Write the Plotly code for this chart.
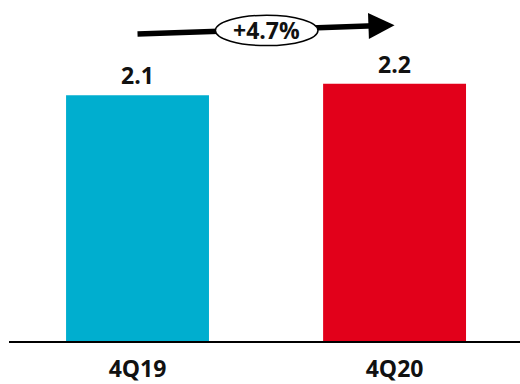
import plotly.graph_objects as go

categories = ["4Q19", "4Q20"]
values = [2.1, 2.2]
value_labels = ["2.1", "2.2"]
colors = ["#00AECF", "#E2001A"]
growth_label = "+4.7%"

FONT = "Open Sans"

fig = go.Figure()
fig.add_trace(go.Bar(
    x=categories, y=values, marker_color=colors, marker_line_width=0,
    width=0.556, hoverinfo="skip",
))

for c, v, t in zip(categories, values, value_labels):
    fig.add_annotation(x=c, y=v, text=f"<b>{t}</b>", showarrow=False,
                       yanchor="middle", yshift=20,
                       font=dict(family=FONT, size=23, color="#111111"))

# growth arrow from first to second category
y_start, y_end = 2.624, 2.70
slope = (y_end - y_start)
fig.add_shape(type="line", xref="x", yref="y", x0=0, y0=y_start,
              x1=0.95, y1=y_start + slope * 0.95,
              line=dict(color="black", width=5.5), layer="above")
fig.add_shape(type="circle", xref="x", yref="y", x0=0.303, x1=0.702,
              y0=2.525, y1=2.785, fillcolor="white",
              line=dict(color="black", width=1.5), layer="above")
fig.add_annotation(x=1, y=y_end, ax=0.9, ay=y_start + slope * 0.9, xref="x", yref="y",
                   axref="x", ayref="y", text="", showarrow=True,
                   arrowhead=2, arrowwidth=5.5, arrowsize=0.95, arrowcolor="black")
fig.add_annotation(x=0.503, y=2.655, text=f"<b>{growth_label}</b>", showarrow=False,
                   font=dict(family=FONT, size=23, color="#111111"))

fig.update_layout(
    width=520, height=384, margin=dict(l=9, r=0, t=0, b=43),
    paper_bgcolor="white", plot_bgcolor="white", showlegend=False,
    xaxis=dict(range=[-0.5, 1.488], showline=True, linecolor="black", linewidth=2,
               showgrid=False, zeroline=False, ticks="outside", ticklen=6,
               tickcolor="rgba(0,0,0,0)",
               tickfont=dict(family=FONT, size=23, color="#111111", weight="bold")),
    yaxis=dict(range=[0, 2.915], visible=False, showgrid=False, zeroline=False),
)

fig.write_html("out.html")
